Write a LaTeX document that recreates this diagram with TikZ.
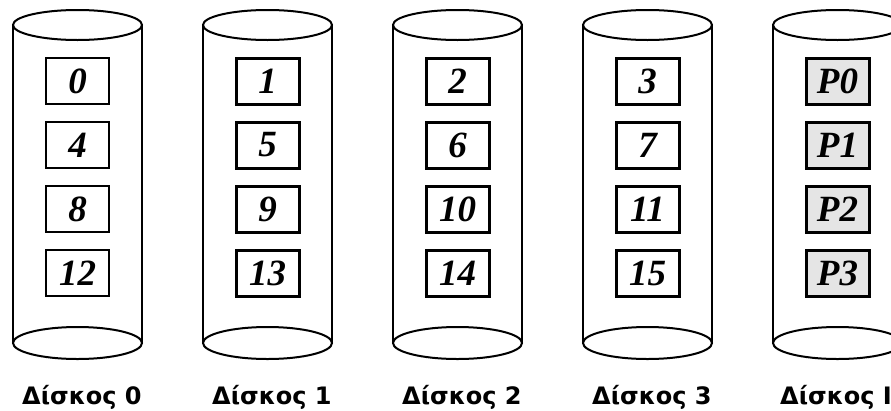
\documentclass[tikz,border=0pt]{standalone}
\usepackage{fontspec}
\setmainfont{Liberation Serif}
\newfontfamily\lblfont{DejaVu Sans}
\begin{document}
\begin{tikzpicture}[x=1pt,y=-1pt,
  cyl/.style={line width=2pt, fill=white},
  blk/.style={draw, line width=3pt, minimum width=63pt, minimum height=46pt, inner sep=0pt,
    font=\fontsize{37}{37}\selectfont\bfseries\itshape},
  thinblk/.style={blk, line width=2.2pt},
  parblk/.style={blk, fill=black!10},
  lbl/.style={anchor=base west, inner sep=0pt, font=\lblfont\bfseries\fontsize{24}{24}\selectfont}]
\useasboundingbox (0,0) rectangle (891,410);
\foreach \i in {0,...,4}{
  \pgfmathsetmacro{\cx}{77.5+190*\i}
  \pgfmathsetmacro{\L}{\cx-64.5}
  \pgfmathsetmacro{\R}{\cx+64.5}
  \draw[cyl] (\L,25) -- (\L,343) (\R,25) -- (\R,343);
  \draw[cyl] (\cx,25) ellipse [x radius=64.5, y radius=15];
  \draw[cyl] (\cx,343) ellipse [x radius=64.5, y radius=16];
}
\foreach \j/\y in {0/81,1/145,2/209,3/273}{
  \pgfmathtruncatemacro{\n}{4*\j}
  \node[thinblk] (b0-\j) at (77.5,\y) {\n};
}
\node[lbl] (l0) at (22,404) {Δίσκος 0};
\foreach \i in {1,2,3}{
  \pgfmathsetmacro{\cx}{77.5+190*\i}
  \foreach \j/\y in {0/81,1/145,2/209,3/273}{
    \pgfmathtruncatemacro{\n}{\i+4*\j}
    \node[blk] (b\i-\j) at (\cx,\y) {\n};
  }
  \node[lbl] (l\i) at (22+190*\i,404) {Δίσκος \i};
}
\foreach \j/\y in {0/81,1/145,2/209,3/273}{
  \node[parblk] (p\j) at (837.5,\y) {P\j};
}
\node[lbl] (l4) at (780,404) {Δίσκος Ι};
\end{tikzpicture}
\end{document}
